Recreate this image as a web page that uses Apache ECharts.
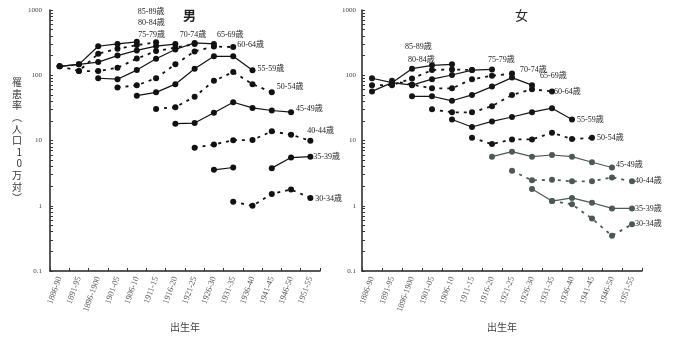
<!DOCTYPE html>
<html>
<head>
<meta charset="utf-8">
<script src="https://cdn.jsdelivr.net/npm/echarts@6/dist/echarts.min.js"></script>
<style>
html, body { margin: 0; padding: 0; background: #fff; }
#chart { width: 679px; height: 337px; }
</style>
</head>
<body>
<div id="chart"></div>
<script>
// 出生コホート
var cohorts = ['1886-90', '1891-95', '1896-1900', '1901-05', '1906-10', '1911-15', '1916-20',
    '1921-25', '1926-30', '1931-35', '1936-40', '1941-45', '1946-50', '1951-55'];
// 年齢階級（上の線から）
var ageGroups = ['85-89歳', '80-84歳', '75-79歳', '70-74歳', '65-69歳', '60-64歳',
    '55-59歳', '50-54歳', '45-49歳', '40-44歳', '35-39歳', '30-34歳'];
// 各年齢階級の最初のコホート
var startCohort = [0, 0, 0, 1, 2, 3, 4, 5, 6, 7, 8, 9];
var yTicks = [0.1, 1, 10, 100, 1000];

// 男 罹患率（人口10万対）
var maleRates = [
    [137, 147, 278, 302, 325],
    [137, 116, 214, 254, 290, 320],
    [137, 147, 159, 200, 240, 280, 300],
    [116, 116, 130, 180, 235, 265, 300],
    [90, 87, 120, 179, 248, 313, 302],
    [65, 70, 90, 147, 232, 275, 270],
    [48.6, 54.7, 73, 126, 195, 195, 119],
    [30.5, 32.4, 47, 82, 112, 73, 55],
    [18.1, 18.5, 26.6, 38.6, 31.6, 28.8, 27.2],
    [7.75, 8.7, 10.1, 10.2, 13.8, 12.3, 9.9],
    [3.55, 3.86, null, 3.77, 5.47, 5.66],
    [1.15, 1.0, 1.52, 1.77, 1.32]
]

// 女 罹患率（人口10万対）
var femaleRates = [
    [56.6, 77, 126, 142, 147],
    [70.5, 70.5, 89, 120, 123, 120],
    [90, 77, 70.5, 87, 101, 120, 123],
    [82, 72, 63, 63, 87, 98, 106],
    [47.6, 47.6, 40.6, 50, 67, 92, 70.5],
    [30, 27, 27, 33.6, 50, 61, 56.6],
    [21, 16.1, 19.6, 22.9, 27.2, 31.3, 21],
    [11, 8.8, 10.4, 10.4, 13.2, 10.5, 11],
    [5.66, 6.74, 5.66, 5.99, 5.66, 4.64, 3.86],
    [3.43, 2.45, 2.5, 2.37, 2.37, 2.72, 2.37],
    [1.81, 1.18, 1.32, 1.11, 0.91, 0.91],
    [1.18, 1.05, 0.635, 0.347, 0.52]
]

// ラベル位置（最後の点からのずれ）
var maleLabelOffset = [[1, -30], [-18, -19], [-37, -9], [-15, -9], [3, -9], [4, -2],
    [5, -1], [5, -5], [5, -3], [-3, -10], [3, 0], [5, 1]];
var femaleLabelOffset = [[-47, -17], [-64, -10], [-4, -9], [8, -4], [8, -9], [2, 1],
    [5, 0], [5, 0], [4, -3], [3, 0], [3, 0], [3, 0]];

var serif = 'Liberation Serif, DejaVu Serif, Noto Sans CJK JP';
var cjk = 'Noto Sans CJK JP';

// 対数目盛の小目盛
var minorTicks = [];
for (var d = 0.1; d < 1000; d *= 10) {
    for (var k = 1; k < 10; k++) {
        minorTicks.push(+(d * k).toPrecision(3));
    }
}
minorTicks.push(1000);

function yAxisCfg (gridIndex, margin, withName) {
    var cfg = {
        type: 'log',
        logBase: 10,
        gridIndex: gridIndex,
        min: 0.1,
        max: 1000,
        axisLine: { show: true, lineStyle: { color: '#222', width: 1.5 } },
        axisTick: { show: true, inside: true, length: 3, customValues: minorTicks, lineStyle: { color: '#333' } },
        axisLabel: {
            customValues: yTicks,
            formatter: function (v) { return String(v) },
            fontSize: 7,
            color: '#444',
            margin: margin,
            fontFamily: serif
        },
        splitLine: { show: false }
    }
    if (withName) {
        cfg.name = '罹\n患\n率\n︵\n人\n口\n1\n0\n万\n対\n︶'
        cfg.nameLocation = 'middle'
        cfg.nameRotate = 0
        cfg.nameGap = 28
        cfg.nameTextStyle = { fontSize: 10, lineHeight: 11.6, color: '#333', fontFamily: cjk }
    }
    return cfg
}

function xAxisCfg (gridIndex) {
    return {
        type: 'category',
        gridIndex: gridIndex,
        data: cohorts,
        boundaryGap: true,
        axisLine: { lineStyle: { color: '#222', width: 1.5 } },
        axisTick: { show: true, inside: true, length: 3, lineStyle: { color: '#333' } },
        axisLabel: { rotate: 70, fontSize: 8.5, color: '#555', margin: 6, interval: 0, fontFamily: serif },
        name: '出生年',
        nameLocation: 'middle',
        nameGap: 51,
        nameTextStyle: { fontSize: 10, color: '#444', fontFamily: cjk }
    }
}

function buildSeries (rates, offsets, axisIndex, colorOf) {
    return rates.map(function (vals, i) {
        var color = colorOf(i)
        var dashed = i % 2 === 1
        return {
            name: ageGroups[i],
            type: 'line',
            xAxisIndex: axisIndex,
            yAxisIndex: axisIndex,
            data: vals.map(function (v, k) { return [startCohort[i] + k, v === null ? '-' : v] }),
            symbol: 'circle',
            symbolSize: 6,
            connectNulls: false,
            itemStyle: { color: color },
            lineStyle: { color: color, width: dashed ? 1.8 : 1.2, type: dashed ? [3, 5] : 'solid' },
            endLabel: {
                show: true,
                formatter: ageGroups[i],
                distance: 0,
                offset: offsets[i],
                fontSize: 8,
                color: '#222',
                fontFamily: serif
            },
            emphasis: { disabled: true }
        }
    })
}

var chart = echarts.init(document.getElementById('chart'))
chart.setOption({
    animation: false,
    title: [
        { text: '男', left: 178, top: 4, textStyle: { fontSize: 13, fontWeight: 'bold', color: '#222', fontFamily: cjk } },
        { text: '女', left: 510, top: 4, textStyle: { fontSize: 13, fontWeight: 'normal', color: '#222', fontFamily: cjk } }
    ],
    grid: [
        { left: 50, top: 10, width: 270, height: 265 },
        { left: 362, top: 10, width: 280, height: 265 }
    ],
    xAxis: [xAxisCfg(0), xAxisCfg(1)],
    yAxis: [yAxisCfg(0, 8, true), yAxisCfg(1, 6, false)],
    series: buildSeries(maleRates, maleLabelOffset, 0, function () { return '#111' })
        .concat(buildSeries(femaleRates, femaleLabelOffset, 1, function (i) { return i >= 8 ? '#4b5a55' : '#151515' }))
})
</script>
</body>
</html>
